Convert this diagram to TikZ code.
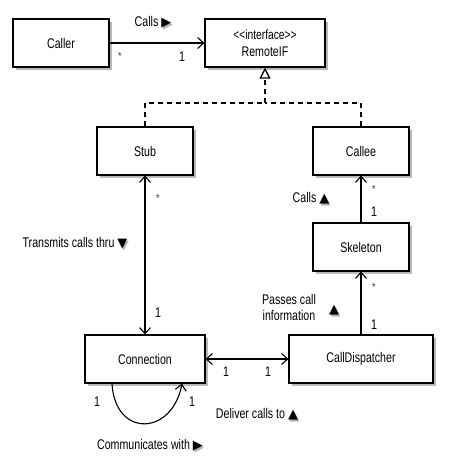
\documentclass[tikz,border=0pt]{standalone}
\usepackage{fontspec}
\setmainfont{Liberation Sans}[FakeStretch=0.76]
\newfontfamily\symf{DejaVu Sans}
\usetikzlibrary{arrows.meta,shadows}
\newcommand\tri[1]{{\symf\fontsize{13}{13}\selectfont\makebox[0pt][l]{\hspace{1.5pt}\raisebox{-1.5pt}{\color{black!30}#1}}#1}}
\begin{document}
\begin{tikzpicture}[x=1pt,y=-1pt,
  every node/.style={font=\fontsize{14}{16}\selectfont, inner sep=0pt},
  cls/.style={draw, line width=1.2pt, fill=white, minimum height=48pt,
    drop shadow={shadow xshift=2.5pt, shadow yshift=-2.5pt, fill=black!35, opacity=0.8}},
  lnk/.style={line width=1.1pt},
  head/.style={lnk, -{Straight Barb[length=6pt,width=11pt,line width=1.1pt]}},
  both/.style={lnk, {Straight Barb[length=6pt,width=11pt,line width=1.1pt]}-{Straight Barb[length=6pt,width=11pt,line width=1.1pt]}},
  real/.style={line width=1.3pt, dash pattern=on 5pt off 4pt},
  mult/.style={font=\fontsize{14}{16}\selectfont},
  star/.style={font=\fontsize{12}{12}\selectfont, text=black!75},
  lab/.style={font=\fontsize{14}{16}\selectfont, align=center}]
\useasboundingbox (0,0) rectangle (468,466);

% classes
\node[cls, minimum width=96pt] (caller) at (61,43) {Caller};
\node[cls, minimum width=120pt, align=center] (remote) at (265,43) {\fontsize{13.5}{15}\selectfont <{}<interface>{}>\\[1pt]RemoteIF};
\node[cls, minimum width=96pt] (stub) at (145,151) {Stub};
\node[cls, minimum width=96pt] (callee) at (361,151) {Callee};
\node[cls, minimum width=96pt] (skel) at (361,247) {Skeleton};
\node[cls, minimum width=120pt] (conn) at (145,359) {Connection};
\node[cls, minimum width=144pt] (disp) at (361,359) {CallDispatcher};

% caller -> remote
\draw[head] (caller.east) -- (remote.west);
\node[lab] (l1) at (153,23) {Calls \tri{▶}};
\node[star] (m1) at (120,56) {*};
\node[mult] (m2) at (182,57) {1};

% realization
\coordinate (j) at (265,103);
\draw[real] (stub.north) |- (j);
\draw[real] (callee.north) |- (j);
\draw[real, -{Triangle[open, length=11pt, width=11pt, line width=1.3pt, fill=white]}] (j) -- (remote.south);

% stub <-> connection
\draw[both] (stub.south) -- (conn.north);
\node[star] (m3) at (158,198) {*};
\node[mult] (m4) at (158,313) {1};
\node[lab] (l2) at (75,244) {Transmits calls thru \tri{▼}};

% skeleton -> callee
\draw[head] (skel.north) -- (callee.south);
\node[star] (m5) at (374,189) {*};
\node[mult] (m6) at (374,212) {1};
\node[lab] (l3) at (311,199) {Calls \tri{▲}};

% dispatcher -> skeleton
\draw[head] (disp.north) -- (skel.south);
\node[star] (m7) at (374,287) {*};
\node[mult] (m8) at (374,325) {1};
\node[lab] (l4) at (289,307) {Passes call\\information};
\node[lab] (l4t) at (334,311) {\tri{▲}};

% connection <-> dispatcher
\draw[both] (conn.east) -- (disp.west);
\node[mult] (m9) at (226,372) {1};
\node[mult] (m10) at (268,372) {1};
\node[lab] (l5) at (257,415) {Deliver calls to \tri{▲}};

% self loop
\coordinate (s1) at (112,383.6);
\coordinate (s2) at (182,383.6);
\draw[head] (s1) .. controls (115,438) and (172,436) .. (s2);
\node[mult] (m11) at (97,402) {1};
\node[mult] (m12) at (192,402) {1};
\node[lab] (l6) at (150,446) {Communicates with \tri{▶}};
\end{tikzpicture}
\end{document}
